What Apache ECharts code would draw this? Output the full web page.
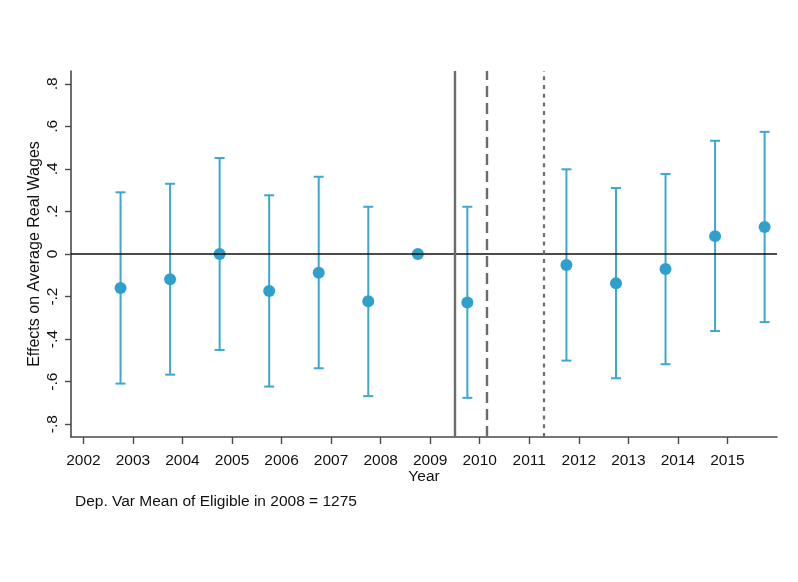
<!DOCTYPE html>
<html>
<head>
<meta charset="utf-8">
<script src="https://cdn.jsdelivr.net/npm/echarts@6/dist/echarts.min.js"></script>
<style>html,body{margin:0;padding:0;background:#fff}#c{width:798px;height:582px}</style>
</head>
<body>
<div id="c"></div>
<script>
var years = [2002.75, 2003.75, 2004.75, 2005.75, 2006.75, 2007.75, 2008.75, 2009.75, 2011.75, 2012.75, 2013.75, 2014.75, 2015.75];
var coef  = [-0.160, -0.119, 0.000, -0.174, -0.088, -0.222, 0.000, -0.228, -0.052, -0.138, -0.070, 0.084, 0.127];
var upper = [0.290, 0.330, 0.451, 0.276, 0.363, 0.222, null, 0.222, 0.398, 0.310, 0.376, 0.532, 0.574];
var lower = [-0.609, -0.567, -0.451, -0.623, -0.537, -0.668, null, -0.676, -0.501, -0.584, -0.518, -0.362, -0.320];
var xTicks = [2002, 2003, 2004, 2005, 2006, 2007, 2008, 2009, 2010, 2011, 2012, 2013, 2014, 2015];
var yTicks = [-0.8, -0.6, -0.4, -0.2, 0, 0.2, 0.4, 0.6, 0.8];
var vlineSolid = 2009.5, vlineDashed = 2010.14, vlineDotted = 2011.3;
var noteText = 'Dep. Var Mean of Eligible in 2008 = 1275';

var FONT = 'Liberation Sans, Arial, sans-serif';
var AX = '#4a4a4a';
var ciData = [];
for (var i = 0; i < years.length; i++) {
  if (upper[i] != null) ciData.push([years[i], lower[i], upper[i]]);
}
var ptData = years.map(function (y, i) { return [y, coef[i]]; });

var chart = echarts.init(document.getElementById('c'));
chart.setOption({
  backgroundColor: '#fff',
  animation: false,
  grid: { left: 71, right: 21, top: 71, bottom: 145 },
  xAxis: {
    type: 'value', min: 2001.75, max: 2016,
    name: 'Year', nameLocation: 'middle', nameGap: 32, nameMoveOverlap: false,
    nameTextStyle: { fontFamily: FONT, fontSize: 15.5, color: '#111' },
    axisLine: { show: true, onZero: false, lineStyle: { color: AX, width: 1.6 } },
    axisTick: { show: true, inside: false, length: 7, customValues: xTicks, lineStyle: { color: AX, width: 1.4 } },
    axisLabel: { customValues: xTicks, margin: 16, fontFamily: FONT, fontSize: 15.5, color: '#111',
      formatter: function (v) { return String(Math.round(v)); } },
    splitLine: { show: false }
  },
  yAxis: {
    type: 'value', min: -0.86, max: 0.86,
    name: 'Effects on Average Real Wages', nameLocation: 'middle', nameGap: 28, nameMoveOverlap: false,
    nameTextStyle: { fontFamily: FONT, fontSize: 16, color: '#111' },
    axisLine: { show: true, onZero: false, lineStyle: { color: AX, width: 1.6 } },
    axisTick: { show: true, inside: false, length: 6, customValues: yTicks, lineStyle: { color: AX, width: 1.4 } },
    axisLabel: { customValues: yTicks, rotate: 90, margin: 10, fontFamily: FONT, fontSize: 15.5, color: '#111',
      formatter: function (v) {
        if (Math.abs(v) < 1e-9) return '0';
        return (Math.round(v * 10) / 10).toFixed(1).replace('0.', '.');
      } },
    splitLine: { show: false }
  },
  graphic: [{
    type: 'text', left: 75, top: 494,
    style: { text: noteText, fontFamily: FONT, fontSize: 15.5, fill: '#111' }
  }],
  series: [
    {
      type: 'line', data: [], silent: true,
      markLine: {
        symbol: 'none', silent: true, animation: false, label: { show: false },
        data: [
          { yAxis: 0, lineStyle: { color: '#111', width: 1.7, type: 'solid' } },
          { xAxis: vlineSolid, lineStyle: { color: '#6b6b6b', width: 2.4, type: 'solid' } },
          { xAxis: vlineDashed, lineStyle: { color: '#6b6b6b', width: 2.4, type: [11, 6] } },
          { xAxis: vlineDotted, lineStyle: { color: '#6b6b6b', width: 2.2, type: [4, 4.7] } }
        ]
      }
    },
    {
      type: 'custom', data: ciData, z: 3,
      renderItem: function (params, api) {
        var x = api.value(0);
        var lo = api.coord([x, api.value(1)]);
        var hi = api.coord([x, api.value(2)]);
        var w = 5;
        var st = { stroke: '#3ba8d4', lineWidth: 2 };
        return { type: 'group', children: [
          { type: 'line', shape: { x1: lo[0], y1: lo[1], x2: hi[0], y2: hi[1] }, style: st },
          { type: 'line', shape: { x1: lo[0] - w, y1: lo[1], x2: lo[0] + w, y2: lo[1] }, style: st },
          { type: 'line', shape: { x1: hi[0] - w, y1: hi[1], x2: hi[0] + w, y2: hi[1] }, style: st }
        ] };
      }
    },
    {
      type: 'scatter', data: ptData, z: 4, symbol: 'circle', symbolSize: 12,
      itemStyle: { color: '#2fa0cb', opacity: 1 }
    }
  ]
});
</script>
</body>
</html>
